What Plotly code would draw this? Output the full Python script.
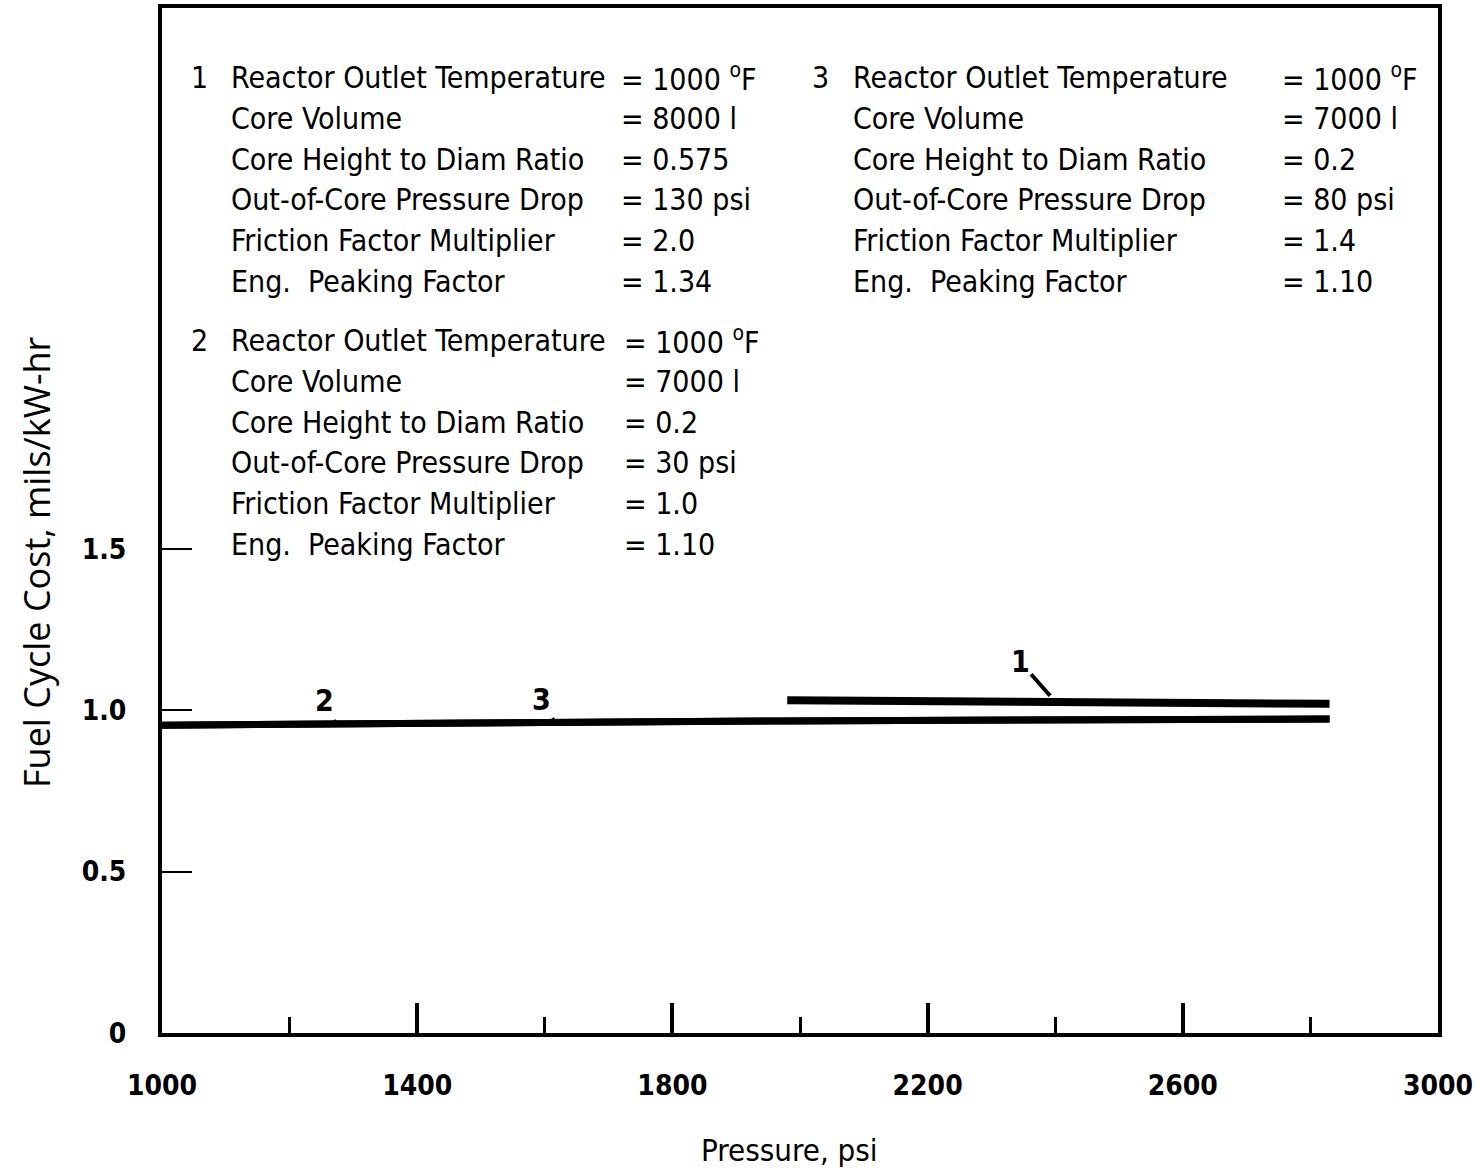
import plotly.graph_objects as go

# ---------------- data ----------------
pressure_case1 = [1980, 2830]
cost_case1 = [1.031, 1.020]

pressure_case2 = [1000, 1970, 2830]
cost_case2 = [0.954, 0.967, 0.973]

pressure_case3 = [1000, 1970, 2830]
cost_case3 = [0.954, 0.967, 0.973]

x_tick_vals = [1000, 1400, 1800, 2200, 2600, 3000]
x_tick_text = ["1000", "1400", "1800", "2200", "2600", "3000"]
x_minor_vals = [1200, 1600, 2000, 2400, 2800]
y_tick_vals = [0, 0.5, 1.0, 1.5]
y_tick_text = ["0", "0.5", "1.0", "1.5"]

x_title = "Pressure, psi"
y_title = "Fuel Cycle Cost, mils/kW-hr"

param_labels = [
    "Reactor Outlet Temperature",
    "Core Volume",
    "Core Height to Diam Ratio",
    "Out-of-Core Pressure Drop",
    "Friction Factor Multiplier",
    "Eng.\u00a0 Peaking Factor",
]
case1_values = ["1000 <sup>o</sup>F", "8000 l", "0.575", "130 psi", "2.0", "1.34"]
case2_values = ["1000 <sup>o</sup>F", "7000 l", "0.2", "30 psi", "1.0", "1.10"]
case3_values = ["1000 <sup>o</sup>F", "7000 l", "0.2", "80 psi", "1.4", "1.10"]

# ---------------- layout geometry ----------------
W, H = 1476, 1170
L, R, T, B = 162, 1438, 8, 1033
PW, PH = R - L, B - T


def px(x, y):
    return (x - L) / PW, (B - y) / PH


NARROW = "DejaVu Sans Condensed, Liberation Sans Narrow, sans-serif"
REG = "Open Sans, DejaVu Sans, sans-serif"

fig = go.Figure()
fig.add_trace(go.Scatter(x=pressure_case1, y=cost_case1, mode="lines",
                         line=dict(color="black", width=8), name="1", showlegend=False))
fig.add_trace(go.Scatter(x=pressure_case2, y=cost_case2, mode="lines",
                         line=dict(color="black", width=7), name="2", showlegend=False))
fig.add_trace(go.Scatter(x=pressure_case3, y=cost_case3, mode="lines",
                         line=dict(color="black", width=7), name="3", showlegend=False))

annotations = []
text_font = dict(family=NARROW, size=30, color="black")
row_gap = 40.6


def add_block(number, values, num_x, label_x, value_x, top_y):
    for i, (lab, val) in enumerate(zip(param_labels, values)):
        y = top_y + i * row_gap
        if i == 0:
            xx, yy = px(num_x, y)
            annotations.append(dict(x=xx, y=yy, xref="paper", yref="paper", text=number,
                                    showarrow=False, xanchor="left", yanchor="middle",
                                    font=text_font))
        xx, yy = px(label_x, y)
        annotations.append(dict(x=xx, y=yy, xref="paper", yref="paper", text=lab,
                                showarrow=False, xanchor="left", yanchor="middle",
                                font=text_font))
        xx, yy = px(value_x, y)
        annotations.append(dict(x=xx, y=yy, xref="paper", yref="paper", text="= " + val,
                                showarrow=False, xanchor="left", yanchor="middle",
                                font=text_font))


add_block("1", case1_values, 189, 229, 619, 78)
add_block("2", case2_values, 189, 229, 622, 341)
add_block("3", case3_values, 810, 851, 1280, 78)

# curve labels with pointers
ptr_font = dict(family=NARROW, size=30, color="black", weight="bold")
annotations.append(dict(x=1274, y=0.955, xref="x", yref="y", text="2", showarrow=True,
                        arrowhead=0, arrowwidth=3, arrowcolor="black",
                        ax=-12, ay=-24, font=ptr_font, standoff=0))
annotations.append(dict(x=1617, y=0.96, xref="x", yref="y", text="3", showarrow=True,
                        arrowhead=0, arrowwidth=3, arrowcolor="black",
                        ax=-14, ay=-24, font=ptr_font, standoff=0))
annotations.append(dict(x=2392, y=1.045, xref="x", yref="y", text="1", showarrow=True,
                        arrowhead=0, arrowwidth=4, arrowcolor="black",
                        ax=-30, ay=-34, font=ptr_font))

# axis titles placed as in the reference
xx, yy = px(789, 1150)
annotations.append(dict(x=xx, y=yy, xref="paper", yref="paper", text=x_title,
                        showarrow=False, xanchor="center", yanchor="middle",
                        font=dict(family=NARROW, size=31, color="black")))
xx, yy = px(36, 562)
annotations.append(dict(x=xx, y=yy, xref="paper", yref="paper", text=y_title,
                        showarrow=False, xanchor="center", yanchor="middle", textangle=-90,
                        font=dict(family=REG, size=36, color="black")))

fig.update_layout(
    width=W, height=H,
    margin=dict(l=L, r=W - R, t=T, b=H - B, autoexpand=False),
    paper_bgcolor="white", plot_bgcolor="white",
    showlegend=False,
    annotations=annotations,
    xaxis=dict(
        range=[1000, 3000], showgrid=False, zeroline=False, automargin=False,
        showline=True, linecolor="black", linewidth=4, mirror=True,
        tickmode="array", tickvals=x_tick_vals, ticktext=x_tick_text,
        ticks="inside", ticklen=30, tickwidth=4, tickcolor="black",
        ticklabelstandoff=24, ticklabeloverflow="allow",
        tickfont=dict(family=NARROW, size=28, color="black", weight="bold"),
        minor=dict(tickmode="array", tickvals=x_minor_vals, ticks="inside",
                   ticklen=16, tickwidth=3, tickcolor="black", showgrid=False),
    ),
    yaxis=dict(
        range=[0, (B - T) / 322.7], showgrid=False, zeroline=False, automargin=False,
        showline=True, linecolor="black", linewidth=4, mirror=True,
        tickmode="array", tickvals=y_tick_vals, ticktext=y_tick_text,
        ticks="inside", ticklen=30, tickwidth=2, tickcolor="black",
        ticklabelstandoff=26,
        tickfont=dict(family=NARROW, size=28, color="black", weight="bold"),
    ),
)

fig.write_html("out.html")
